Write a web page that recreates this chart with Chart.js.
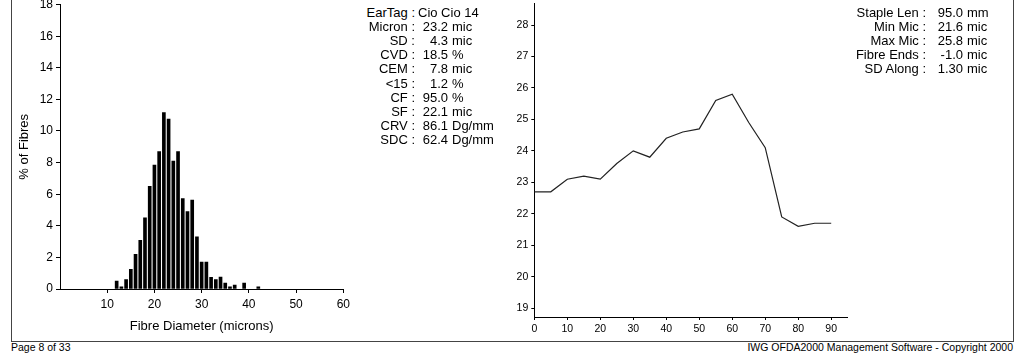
<!DOCTYPE html>
<html>
<head>
<meta charset="utf-8">
<script src="https://cdn.jsdelivr.net/npm/chart.js@4.4.0/dist/chart.umd.min.js"></script>
<style>
  body { margin: 0; background: #fff; overflow: hidden; font-family: "Liberation Sans", Arial, sans-serif; }
  #page { position: relative; width: 1024px; height: 363px; }
  canvas { position: absolute; }
  .frame { position: absolute; background: #444; }
  .txt { position: absolute; font-size: 13px; line-height: 14px; color: #000; white-space: pre; }
  .foot { position: absolute; font-size: 10.5px; color: #000; top: 341px; white-space: pre; }
</style>
</head>
<body>
<div id="page">
  <div class="frame" style="left:11px;top:0;width:1px;height:341px"></div>
  <div class="frame" style="left:1013px;top:0;width:1px;height:341px"></div>
  <div class="frame" style="left:11px;top:341px;width:1003px;height:1px"></div>
  <canvas id="histo" width="360" height="350" style="left:0;top:-10px"></canvas>
  <canvas id="along" width="380" height="350" style="left:480px;top:-10px"></canvas>
  <div id="stats"></div>
  <div class="foot" style="left:11px">Page 8 of 33</div>
  <div class="foot" style="right:11px">IWG OFDA2000 Management Software - Copyright 2000</div>
</div>
<script>
// fibre diameter histogram (% of fibres per micron)
const diameters = [12, 13, 14, 15, 16, 17, 18, 19, 20, 21, 22, 23, 24, 25, 26, 27, 28, 29, 30, 31, 32, 33, 34, 35, 36, 37, 39, 42];
const percentFibres = [0.5, 0.13, 0.6, 1.24, 2.2, 3.08, 4.5, 6.5, 7.85, 8.7, 11.16, 10.76, 8.1, 8.7, 5.72, 4.9, 5.63, 3.3, 1.7, 1.7, 0.74, 0.6, 0.76, 0.38, 0.13, 0.25, 0.38, 0.13];
const histoXTicks = [10, 20, 30, 40, 50, 60];
const histoYTicks = [0, 2, 4, 6, 8, 10, 12, 14, 16, 18];

// micron profile along the staple
const positions = [0, 5, 10, 15, 20, 25, 30, 35, 40, 45, 50, 55, 60, 65, 70, 75, 80, 85, 90];
const micron = [22.7, 22.7, 23.1, 23.2, 23.1, 23.6, 24.0, 23.8, 24.4, 24.6, 24.7, 25.6, 25.8, 24.9, 24.1, 21.9, 21.6, 21.7, 21.7];
const alongXTicks = [0, 10, 20, 30, 40, 50, 60, 70, 80, 90];
const alongYTicks = [19, 20, 21, 22, 23, 24, 25, 26, 27, 28];

// text summaries
const statLabels = ['EarTag', 'Micron', 'SD', 'CVD', 'CEM', '<15', 'CF', 'SF', 'CRV', 'SDC'];
const statValues = ['Cio Cio 14', '23.2', '4.3', '18.5', '7.8', '1.2', '95.0', '22.1', '86.1', '62.4'];
const statUnits = ['', 'mic', 'mic', '%', 'mic', '%', '%', 'mic', 'Dg/mm', 'Dg/mm'];
const stapleLabels = ['Staple Len', 'Min Mic', 'Max Mic', 'Fibre Ends', 'SD Along'];
const stapleValues = ['95.0', '21.6', '25.8', '-1.0', '1.30'];
const stapleUnits = ['mm', 'mic', 'mic', 'mic', 'mic'];

const stats = document.getElementById('stats');
function addText(text, x, y, align) {
  const d = document.createElement('div');
  d.className = 'txt';
  d.textContent = text;
  d.style.top = (y - 7) + 'px';
  if (align === 'right') d.style.right = (1024 - x) + 'px';
  else d.style.left = x + 'px';
  stats.appendChild(d);
}
function addBlock(labels, values, units, colonX, numRight, top) {
  labels.forEach((lab, i) => {
    const y = top + i * 14.2;
    addText(lab + ' :', colonX, y, 'right');
    if (units[i] === '') {
      addText(values[i], colonX + 3, y, 'left');
    } else {
      addText(values[i], numRight, y, 'right');
      addText(units[i], numRight + 4, y, 'left');
    }
  });
}
addBlock(statLabels, statValues, statUnits, 415, 448, 12.5);
addBlock(stapleLabels, stapleValues, stapleUnits, 926, 963, 12.5);

Chart.defaults.font.family = '"Liberation Sans", Arial, sans-serif';
Chart.defaults.color = '#000';

function fixedTicks(list) {
  return scale => { scale.ticks = list.map(v => ({ value: v })); };
}

new Chart(document.getElementById('histo'), {
  type: 'bar',
  data: {
    datasets: [{
      data: diameters.map((d, i) => ({ x: d, y: percentFibres[i] })),
      backgroundColor: '#000',
      borderWidth: 0,
      barThickness: 3
    }]
  },
  options: {
    responsive: false,
    animation: false,
    layout: { padding: { top: 14.6, right: 16.7, left: 0, bottom: 0 } },
    plugins: { legend: { display: false }, tooltip: { enabled: false } },
    scales: {
      x: {
        type: 'linear', min: 0, max: 60, offset: false,
        afterBuildTicks: fixedTicks(histoXTicks),
        afterFit: s => { s.height = 51; },
        grid: { drawOnChartArea: false, offset: false, tickLength: 4, color: '#000' },
        border: { color: '#000', width: 1 },
        ticks: { font: { size: 12 }, padding: 4, maxRotation: 0 },
        title: { display: true, text: 'Fibre Diameter (microns)', font: { size: 13 }, padding: { top: 0, bottom: 6 } }
      },
      y: {
        min: 0, max: 18,
        afterBuildTicks: fixedTicks(histoYTicks),
        afterFit: s => { s.width = 60; },
        grid: { drawOnChartArea: false, tickLength: 4, color: '#000' },
        border: { color: '#000', width: 1 },
        ticks: { font: { size: 12 }, padding: 3 },
        title: { display: true, text: '% of Fibres', font: { size: 13 }, padding: { top: 17, bottom: 0 } }
      }
    }
  }
});

new Chart(document.getElementById('along'), {
  type: 'line',
  data: {
    datasets: [{
      data: positions.map((p, i) => ({ x: p, y: micron[i] })),
      borderColor: '#222',
      borderWidth: 1.2,
      pointRadius: 0,
      tension: 0,
      fill: false
    }]
  },
  options: {
    responsive: false,
    animation: false,
    layout: { padding: { top: 13, right: 12.3, left: 0, bottom: 0 } },
    plugins: { legend: { display: false }, tooltip: { enabled: false } },
    scales: {
      x: {
        type: 'linear', min: 0, max: 95,
        afterBuildTicks: fixedTicks(alongXTicks),
        afterFit: s => { s.height = 23; },
        grid: { drawOnChartArea: false, tickLength: 3, color: '#000' },
        border: { color: '#000', width: 1 },
        ticks: { font: { size: 10.5 }, padding: 3, maxRotation: 0 }
      },
      y: {
        min: 18.72, max: 28.7,
        afterBuildTicks: fixedTicks(alongYTicks),
        afterFit: s => { s.width = 54.3; },
        grid: { drawOnChartArea: false, tickLength: 3, color: '#000' },
        border: { color: '#000', width: 1 },
        ticks: { font: { size: 10.5 }, padding: 3 }
      }
    }
  }
});
</script>
</body>
</html>
